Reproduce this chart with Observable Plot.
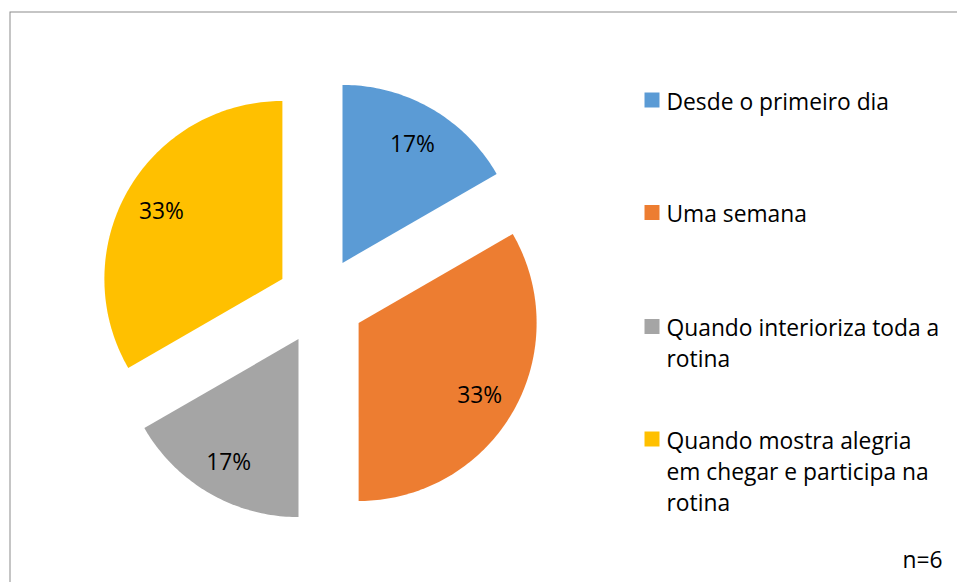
<!DOCTYPE html>
<html>
<head>
<meta charset="utf-8">
<script src="https://cdn.jsdelivr.net/npm/d3@7"></script>
<script src="https://cdn.jsdelivr.net/npm/@observablehq/plot@0.6"></script>
<style>
  html, body { margin: 0; padding: 0; background: #fff; }
  #chart svg { display: block; }
</style>
</head>
<body>
<div id="chart"></div>
<script>
// ---- data ----
const categories = [
  "Desde o primeiro dia",
  "Uma semana",
  "Quando interioriza toda a rotina",
  "Quando mostra alegria em chegar e participa na rotina"
];
const values = [1, 2, 1, 2];
const colors = ["#5B9BD5", "#ED7D31", "#A5A5A5", "#FFC000"];
const legendLabels = [
  "Desde o primeiro dia",
  "Uma semana",
  "Quando interioriza toda a\nrotina",
  "Quando mostra alegria\nem chegar e participa na\nrotina"
];
const sampleNote = "n=6";

// ---- layout (pixels) ----
const W = 957, H = 582;
const cx = 320, cy = 300.5, R = 178;
const explode = 44 / R;       // slice offset, in radius units
const labelPos = 0.785;       // label distance from slice apex, in radius units
const legendRowY = [99.5, 212, 341.5, 469.5];
const legendSquareX = 651.5, legendTextX = 666;

// ---- geometry in radius units (clockwise from 12 o'clock) ----
const total = d3.sum(values);
const slices = [];
let acc = 0;
values.forEach((v, i) => {
  const a0 = acc / total * 2 * Math.PI;
  acc += v;
  const a1 = acc / total * 2 * Math.PI;
  const mid = (a0 + a1) / 2;
  slices.push({cat: categories[i], value: v, a0, a1, mid});
});

const poly = [];
slices.forEach(s => {
  const ox = explode * Math.sin(s.mid), oy = explode * Math.cos(s.mid);
  poly.push({cat: s.cat, x: ox, y: oy});
  const n = Math.max(8, Math.ceil((s.a1 - s.a0) / (Math.PI / 180)));
  for (let k = 0; k <= n; k++) {
    const a = s.a0 + (s.a1 - s.a0) * k / n;
    poly.push({cat: s.cat, x: ox + Math.sin(a), y: oy + Math.cos(a)});
  }
  poly.push({cat: s.cat, x: ox, y: oy});
});

const labels = slices.map(s => ({
  cat: s.cat,
  x: (explode + labelPos) * Math.sin(s.mid),
  y: (explode + labelPos) * Math.cos(s.mid),
  text: Math.round(s.value / total * 100) + "%"
}));

const font = "'Open Sans', sans-serif";
const fs = 22.8;

const marks = [
  Plot.frame({stroke: "#8c8c8c", strokeWidth: 1, insetLeft: 9.5, insetTop: 11.5, insetRight: -5, insetBottom: -5}),
  Plot.line(poly, {x: "x", y: "y", z: "cat", fill: "cat", stroke: "none"}),
  Plot.text(labels, {x: "x", y: "y", dy: 2.5, text: "text", fontSize: fs, fill: "#000", fontFamily: font})
];

categories.forEach((c, i) => {
  marks.push(Plot.dot([c], {
    frameAnchor: "top-left", dx: legendSquareX, dy: legendRowY[i] + (i >= 2 ? -(legendLabels[i].split("\n").length - 1) * 15.5 : 0),
    symbol: "square", r: 8.46, fill: d => d, stroke: "none"
  }));
  marks.push(Plot.text([legendLabels[i]], {
    frameAnchor: "top-left", dx: legendTextX, dy: legendRowY[i],
    text: d => d, textAnchor: "start", lineAnchor: "middle", lineHeight: 31 / fs,
    fontSize: fs, fill: "#000", fontFamily: font
  }));
});

marks.push(Plot.text([sampleNote], {
  frameAnchor: "top-left", dx: 942, dy: 560, text: d => d,
  textAnchor: "end", lineAnchor: "middle", fontSize: fs, fill: "#000", fontFamily: font
}));

const chart = Plot.plot({
  width: W,
  height: H,
  margin: 0,
  x: {domain: [-cx / R, (W - cx) / R], axis: null},
  y: {domain: [-(H - cy) / R, cy / R], axis: null},
  color: {domain: categories, range: colors},
  style: {fontFamily: font, background: "#fff"},
  marks
});
document.getElementById("chart").appendChild(chart);
</script>
</body>
</html>
